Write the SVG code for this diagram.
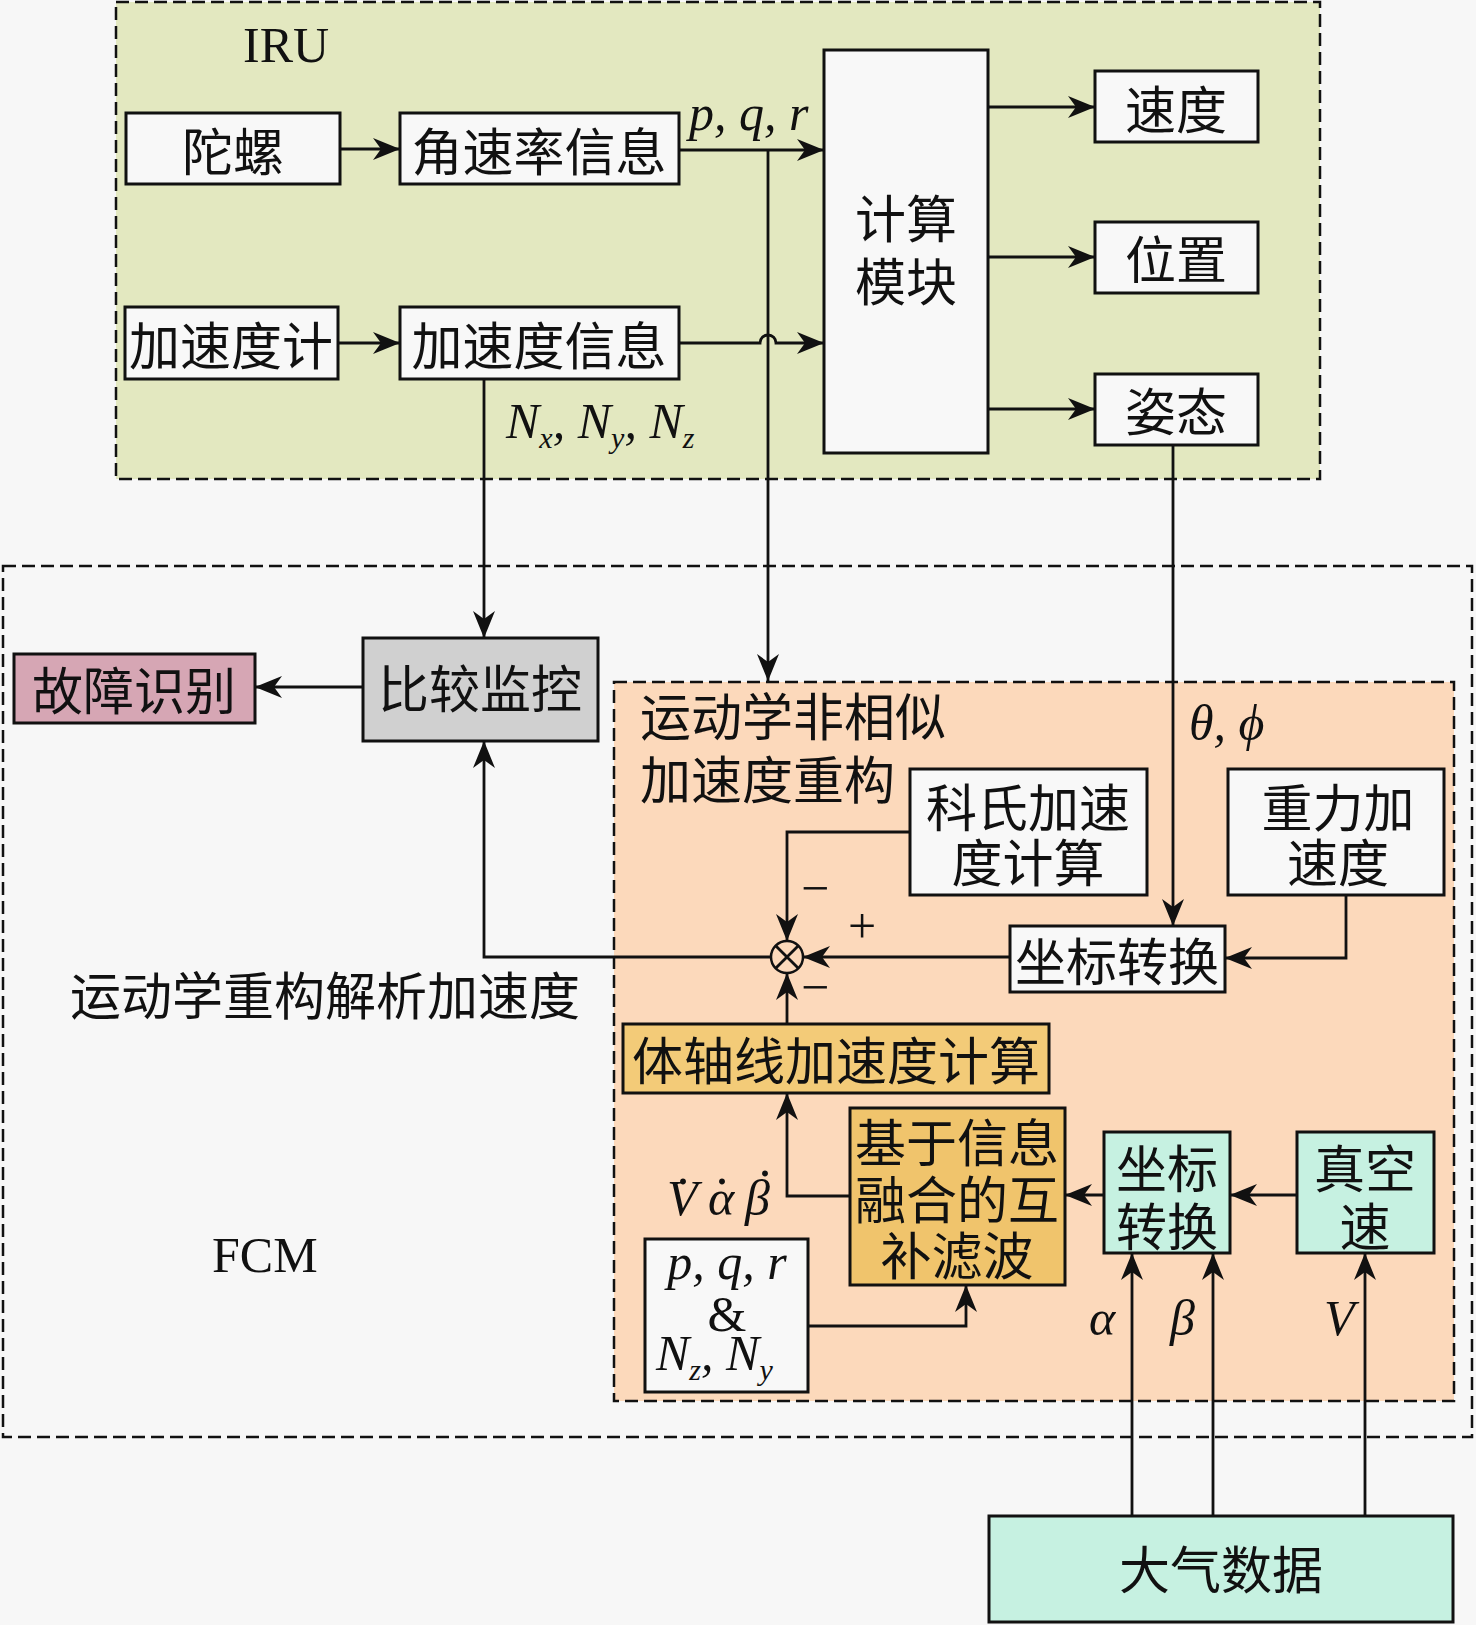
<svg xmlns="http://www.w3.org/2000/svg" width="1476" height="1625" viewBox="0 0 1476 1625">
<defs>
<marker id="arr" viewBox="-28 -12 30 24" refX="0" refY="0" markerWidth="30" markerHeight="24" markerUnits="userSpaceOnUse" orient="auto">
<path d="M0,0 L-27,-11 L-19,0 L-27,11 Z" fill="#111"/>
</marker>
<style>
.box{stroke:#111;stroke-width:3}
.w{fill:#f8f8f8}
.cn{font-family:"Noto Sans CJK SC","Noto Sans CJK JP",sans-serif;font-size:51px;fill:#111;text-anchor:middle;dominant-baseline:central}
.cnl{font-family:"Noto Sans CJK SC","Noto Sans CJK JP",sans-serif;font-size:51px;fill:#111;dominant-baseline:central}
.m{font-family:"Liberation Serif","DejaVu Serif",serif;font-style:italic;font-size:50px;fill:#111}
.r{font-family:"Liberation Serif","DejaVu Serif",serif;font-size:50px;fill:#111}
.dash{fill:none;stroke:#111;stroke-width:2.5;stroke-dasharray:13 6}
.ln{fill:none;stroke:#111;stroke-width:2.8}
.la{fill:none;stroke:#111;stroke-width:2.8;marker-end:url(#arr)}
</style>
</defs>
<rect width="1476" height="1625" fill="#f7f7f7"/>

<g id="IRU">
<rect x="116" y="2" width="1204" height="477" fill="#e3e8c0"/>
<rect x="116" y="2" width="1204" height="477" class="dash"/>
<text x="243" y="62" class="r">IRU</text>
</g>

<g id="FCM">
<rect x="3" y="566" width="1469" height="871" class="dash"/>
<text x="212" y="1272" class="r">FCM</text>
</g>

<g id="kin">
<rect x="614" y="682" width="840" height="719" fill="#fcd9bb"/>
<rect x="614" y="682" width="840" height="719" class="dash"/>
<text x="640" y="714" class="cnl">运动学非相似</text>
<text x="640" y="777" class="cnl">加速度重构</text>
</g>

<g id="tuoluo"><rect x="126" y="113" width="214" height="71" class="box w"/><text x="233" y="149" class="cn">陀螺</text></g>
<g id="jiaosulv"><rect x="400" y="113" width="279" height="71" class="box w"/><text x="539" y="149" class="cn">角速率信息</text></g>
<g id="jiasuduji"><rect x="125" y="307" width="213" height="72" class="box w"/><text x="231" y="343" class="cn">加速度计</text></g>
<g id="jiasuduxinxi"><rect x="400" y="307" width="279" height="72" class="box w"/><text x="539" y="343" class="cn">加速度信息</text></g>
<g id="jisuan"><rect x="824" y="50" width="164" height="403" class="box w"/><text x="906" y="216" class="cn">计算</text><text x="906" y="279" class="cn">模块</text></g>
<g id="sudu"><rect x="1095" y="71" width="163" height="71" class="box w"/><text x="1176" y="107" class="cn">速度</text></g>
<g id="weizhi"><rect x="1095" y="222" width="163" height="71" class="box w"/><text x="1176" y="257" class="cn">位置</text></g>
<g id="zitai"><rect x="1095" y="374" width="163" height="71" class="box w"/><text x="1176" y="409" class="cn">姿态</text></g>

<g id="bijiao"><rect x="363" y="638" width="235" height="103" class="box" fill="#d0d0d0"/><text x="480" y="686" class="cn">比较监控</text></g>
<g id="guzhang"><rect x="14" y="654" width="241" height="69" class="box" fill="#d6a6b4"/><text x="134" y="688" class="cn">故障识别</text></g>
<g id="yundongxue"><text x="70" y="993" class="cnl" font-size="52">运动学重构解析加速度</text></g>

<g id="keshi"><rect x="910" y="769" width="237" height="126" class="box w"/><text x="1028" y="805" class="cn">科氏加速</text><text x="1028" y="860" class="cn">度计算</text></g>
<g id="zhongli"><rect x="1228" y="769" width="216" height="126" class="box w"/><text x="1338" y="805" class="cn">重力加</text><text x="1338" y="860" class="cn">速度</text></g>
<g id="zuobiao1"><rect x="1010" y="926" width="215" height="66" class="box w"/><text x="1117" y="959" class="cn">坐标转换</text></g>
<g id="sum"><circle cx="787" cy="957" r="16" fill="#fcd9bb" stroke="#111" stroke-width="2.5"/><path d="M775.7,945.7 L798.3,968.3 M798.3,945.7 L775.7,968.3" class="ln"/></g>
<g id="tizhou"><rect x="623" y="1024" width="426" height="69" class="box" fill="#f3cb78"/><text x="836" y="1058" class="cn">体轴线加速度计算</text></g>
<g id="jiyu"><rect x="850" y="1108" width="215" height="177" class="box" fill="#f0c46c"/><text x="957" y="1140" class="cn">基于信息</text><text x="957" y="1197" class="cn">融合的互</text><text x="957" y="1253" class="cn">补滤波</text></g>
<g id="pqr"><rect x="645" y="1239" width="163" height="153" class="box w"/>
<text x="727" y="1279" class="m" text-anchor="middle">p, q, r</text>
<text x="727" y="1331" class="r" text-anchor="middle">&amp;</text>
<text x="656" y="1370" class="m">N<tspan font-size="30" dy="10">z</tspan><tspan dy="-10">, N</tspan><tspan font-size="30" dy="10">y</tspan></text>
</g>
<g id="zuobiao2"><rect x="1104" y="1132" width="126" height="121" class="box" fill="#c6f1e1"/><text x="1167" y="1166" class="cn">坐标</text><text x="1167" y="1224" class="cn">转换</text></g>
<g id="zhenkong"><rect x="1297" y="1132" width="137" height="121" class="box" fill="#c6f1e1"/><text x="1365" y="1166" class="cn">真空</text><text x="1365" y="1224" class="cn">速</text></g>
<g id="daqi"><rect x="989" y="1516" width="464" height="106" class="box" fill="#c6f1e1"/><text x="1221" y="1567" class="cn">大气数据</text></g>

<g id="connectors">
<path d="M340,149 H400" class="la"/>
<path d="M338,343 H400" class="la"/>
<path d="M679,150 H824" class="la"/>
<path d="M679,343 H760 A8,8 0 0 1 776,343 H824" class="la"/>
<path d="M768,150 V681" class="la"/>
<path d="M988,107 H1095" class="la"/>
<path d="M988,257 H1095" class="la"/>
<path d="M988,409 H1095" class="la"/>
<path d="M484,379 V638" class="la"/>
<path d="M1173,445 V926" class="la"/>
<path d="M363,687 H255" class="la"/>
<path d="M771,957 H484 V741" class="la"/>
<path d="M910,832 H787 V941" class="la"/>
<path d="M1010,957 H803" class="la"/>
<path d="M1346,895 V958 H1225" class="la"/>
<path d="M787,1024 V973" class="la"/>
<path d="M850,1196 H787 V1093" class="la"/>
<path d="M808,1326 H966 V1285" class="la"/>
<path d="M1297,1195 H1230" class="la"/>
<path d="M1104,1195 H1065" class="la"/>
<path d="M1132,1516 V1253" class="la"/>
<path d="M1213,1516 V1253" class="la"/>
<path d="M1365,1516 V1253" class="la"/>
</g>

<g id="labels">
<text x="689" y="130" class="m">p, q, r</text>
<text x="506" y="438" class="m">N<tspan font-size="30" dy="10">x</tspan><tspan dy="-10">, N</tspan><tspan font-size="30" dy="10">y</tspan><tspan dy="-10">, N</tspan><tspan font-size="30" dy="10">z</tspan></text>
<text x="1189" y="740" class="m">θ, ϕ</text>
<text x="815" y="905" class="r" font-size="36" text-anchor="middle">−</text>
<text x="862" y="943" class="r" font-size="36" text-anchor="middle">+</text>
<text x="815" y="1004" class="r" font-size="36" text-anchor="middle">−</text>
<text x="667" y="1215" class="m">V</text>
<text x="708" y="1215" class="m">α</text>
<text x="745" y="1215" class="m">β</text>
<text x="683" y="1184" class="r" text-anchor="middle">.</text>
<text x="722" y="1184" class="r" text-anchor="middle">.</text>
<text x="765" y="1176" class="r" text-anchor="middle">.</text>
<text x="1089" y="1335" class="m">α</text>
<text x="1170" y="1335" class="m">β</text>
<text x="1324" y="1335" class="m">V</text>
</g>
</svg>
